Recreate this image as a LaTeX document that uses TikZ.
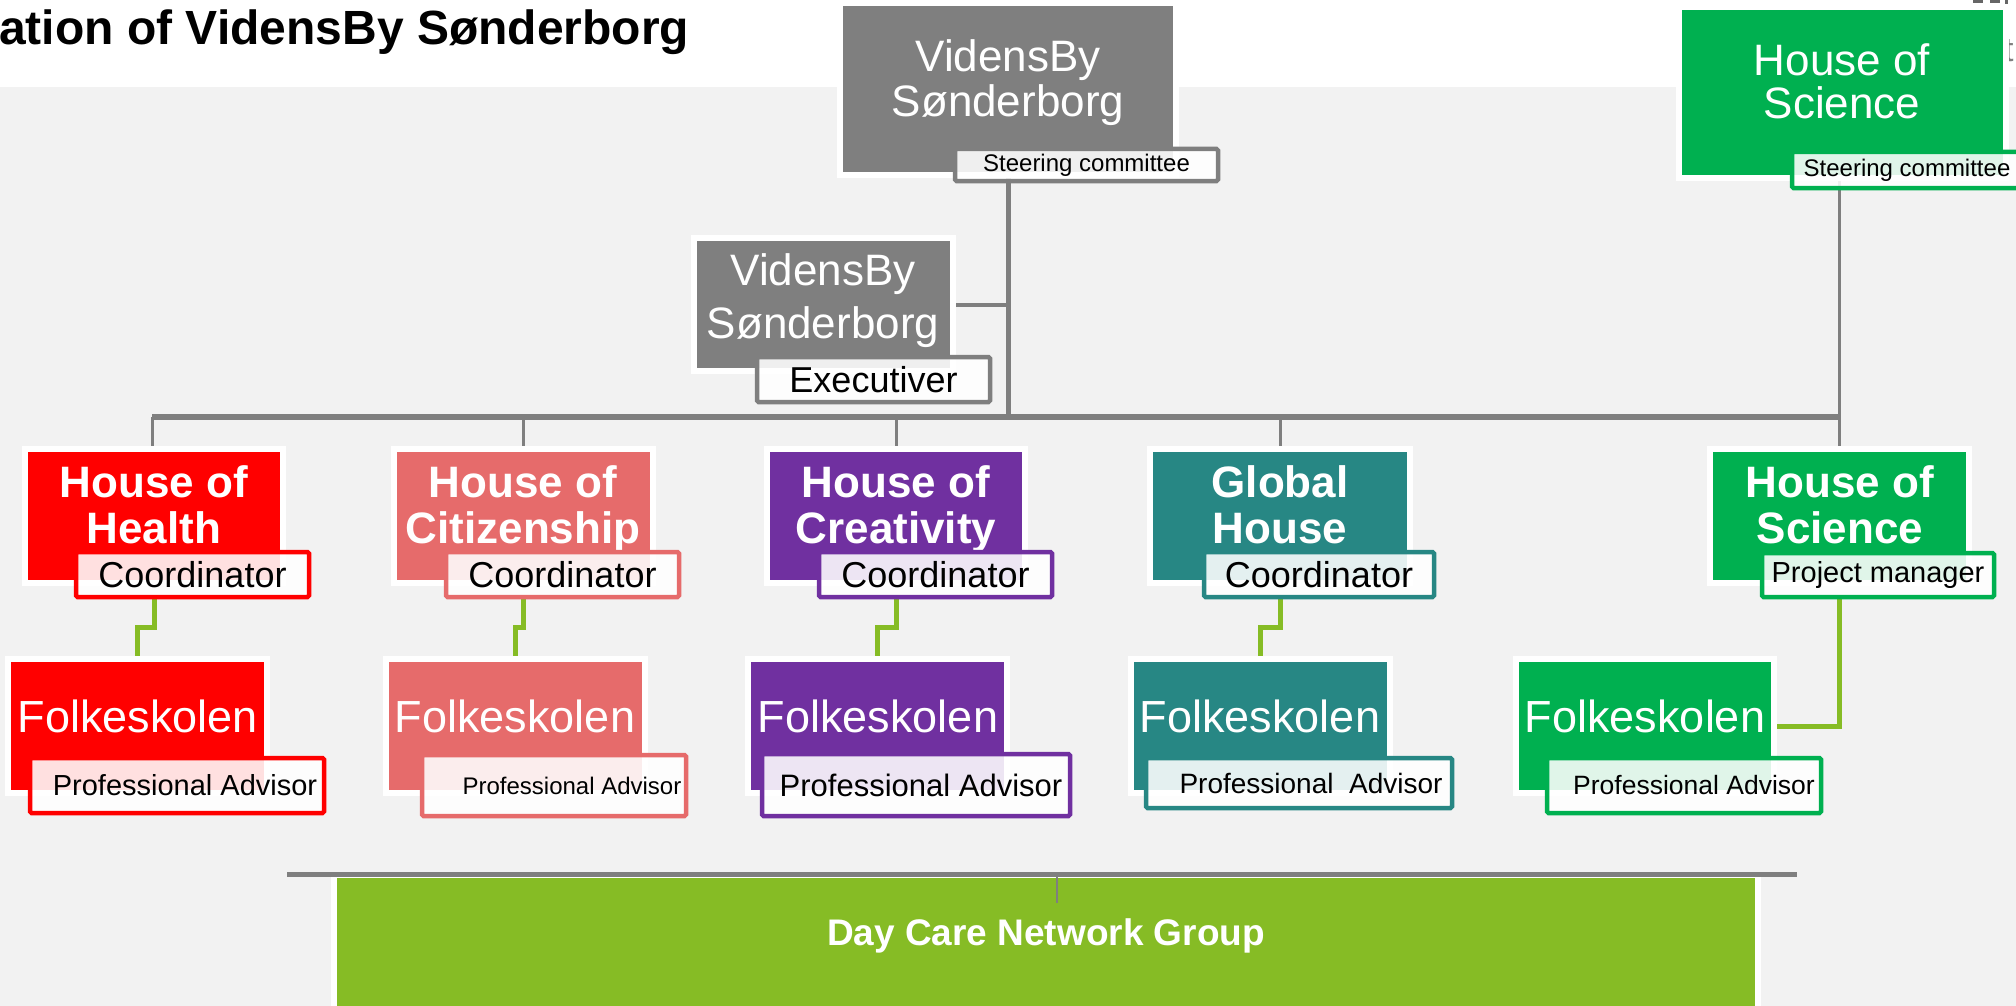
\documentclass[tikz,border=0pt]{standalone}
\usepackage{fontspec}
\setmainfont{Liberation Sans}
\usetikzlibrary{calc}
\pgfdeclarelayer{bg}
\pgfdeclarelayer{lines}
\pgfsetlayers{bg,lines,main}
\definecolor{cgray}{HTML}{7F7F7F}
\definecolor{cbg}{HTML}{F2F2F2}
\definecolor{cred}{HTML}{FF0000}
\definecolor{csal}{HTML}{E66B6B}
\definecolor{cpur}{HTML}{7030A0}
\definecolor{cteal}{HTML}{278784}
\definecolor{cgreen}{HTML}{00B050}
\definecolor{clime}{HTML}{86BC25}
\definecolor{clogo}{HTML}{666666}
\newcommand\fsz[1]{\fontsize{#1}{#1}\selectfont}
\newcommand\mkbox[6]{\node[cbox, fill=#2, minimum width={#5-#3+6}, minimum height={#6-#4+6}] (#1) at ({(#3+#5)/2},{(#4+#6)/2}) {};}
\newcommand\mklab[8]{\node[lab, draw=#2, minimum width={#5-#3-4}, minimum height={#6-#4-4}, font=\fsz{#7}] (#1) at ({(#3+#5)/2},{(#4+#6)/2}) {#8};}
\tikzset{
  cbox/.style={rectangle, draw=white, line width=6pt, inner sep=0pt, outer sep=0pt},
  lab/.style={rectangle, fill=white, fill opacity=0.88, text opacity=1, line width=4.5pt, rounded corners=1.5pt, inner sep=0pt, outer sep=0pt, text=black},
  btxt/.style={text=white, font=\bfseries\fsz{44}, anchor=base, inner sep=0pt},
  rtxt/.style={text=white, font=\fsz{44}, anchor=base, inner sep=0pt},
  ftxt/.style={text=white, font=\fsz{45}, anchor=base, inner sep=0pt},
  gline/.style={draw=cgray},
  lline/.style={draw=clime, line width=5pt},
}
\begin{document}
\begin{tikzpicture}[x=1pt,y=-1pt]
\clip (0,0) rectangle (2016,1006);
\begin{pgfonlayer}{bg}
\fill[white] (0,0) rectangle (2016,1006);
\fill[cbg] (0,87) rectangle (2016,1006);
\end{pgfonlayer}
% title and cut-off corner
\node[anchor=base west, inner sep=0pt, font=\bfseries\fsz{48}] (title) at (-1,45) {ation of VidensBy Sønderborg};
\node[anchor=base west, inner sep=0pt, font=\fsz{34}, text=cgray] (tcut) at (2004,62) {t};
\fill[clogo] (2005,0) rectangle (2008,24);
\fill[clogo] (1973,0) rectangle (1983,3);
\fill[clogo] (1990,0) rectangle (2000,3);
% top level
\mkbox{vb1}{cgray}{843}{6}{1173}{172}
\node[rtxt] (vb1a) at (1008,72) {VidensBy};
\node[rtxt] (vb1b) at (1008,117) {Sønderborg};
\mklab{sc1}{cgray}{953}{147}{1220}{183}{24}{Steering committee}
\mkbox{vb2}{cgray}{697}{241}{950}{368}
\node[rtxt] (vb2a) at (823,285) {VidensBy};
\node[rtxt] (vb2b) at (823,338) {Sønderborg};
\mklab{ex}{cgray}{755}{355}{992}{404}{36}{Executiver}
\mkbox{hs0}{cgreen}{1682}{10}{2003}{175}
\node[rtxt] (hs0a) at (1842,76) {House of};
\node[rtxt] (hs0b) at (1842,119) {Science};
\node[lab, draw=cgreen, minimum width=240, minimum height=36, font=\fsz{24}, anchor=west] (sc2) at (1792,170) {\hspace*{10pt}Steering committee\hspace*{20pt}};
% houses
\mkbox{hh}{cred}{28}{452}{280}{580}
\node[btxt] (hha) at (154,497) {House of};
\node[btxt] (hhb) at (154,543) {Health};
\mklab{hhl}{cred}{74}{550}{311}{599}{36}{Coordinator}
\mkbox{hc}{csal}{397}{452}{650}{580}
\node[btxt] (hca) at (523,497) {House of};
\node[btxt] (hcb) at (523,543) {Citizenship};
\mklab{hcl}{csal}{444}{550}{681}{599}{36}{Coordinator}
\mkbox{hr}{cpur}{770}{452}{1022}{580}
\node[btxt] (hra) at (896,497) {House of};
\node[btxt] (hrb) at (896,543) {Creativity};
\mklab{hrl}{cpur}{817}{550}{1054}{599}{36}{Coordinator}
\mkbox{gh}{cteal}{1153}{452}{1407}{580}
\node[btxt] (gha) at (1280,497) {Global};
\node[btxt] (ghb) at (1280,543) {House};
\mklab{ghl}{cteal}{1202}{550}{1436}{599}{36}{Coordinator}
\mkbox{hs}{cgreen}{1713}{452}{1966}{580}
\node[btxt] (hsa) at (1840,497) {House of};
\node[btxt] (hsb) at (1840,543) {Science};
\mklab{hsl}{cgreen}{1760}{551}{1996}{599}{29}{Project manager}
% folkeskolen
\mkbox{hhf}{cred}{11}{662}{264}{790}
\node[ftxt] (hhft) at (138,732) {Folkeskolen};
\mklab{hhp}{cred}{28}{756}{326}{815}{29}{\hspace*{16pt}Professional Advisor}
\mkbox{hcf}{csal}{389}{662}{642}{790}
\node[ftxt] (hcft) at (515,732) {Folkeskolen};
\mklab{hcp}{csal}{420}{753}{688}{818}{24}{\hspace*{36pt}Professional Advisor}
\mkbox{hrf}{cpur}{751}{662}{1004}{790}
\node[ftxt] (hrft) at (878,732) {Folkeskolen};
\mklab{hrp}{cpur}{760}{752}{1072}{818}{31}{\hspace*{10pt}Professional Advisor}
\mkbox{ghf}{cteal}{1134}{662}{1387}{790}
\node[ftxt] (ghft) at (1260,732) {Folkeskolen};
\mklab{ghp}{cteal}{1144}{756}{1454}{810}{28}{\hspace*{24pt}Professional\ \ Advisor}
\mkbox{hsf}{cgreen}{1519}{662}{1771}{790}
\node[ftxt] (hsft) at (1645,732) {Folkeskolen};
\mklab{hsp}{cgreen}{1545}{756}{1823}{815}{26.5}{\hspace*{20pt}Professional Advisor}
% day care
\mkbox{dc}{clime}{337}{878}{1755}{1014}
\node[text=white, font=\bfseries\fsz{37}, anchor=base, inner sep=0pt] (dct) at (1046,945) {Day Care Network Group};
\coordinate (dcL) at (287,874);
\coordinate (dcR) at (1797,874);
\coordinate (dcT) at (1057,874);
\draw[gline, line width=5pt] (dcL) -- (dcR);
\draw[gline, line width=2.5pt] (dcT) -- ++(0,29);
% connectors
\coordinate (busL) at (152,417);
\coordinate (busR) at (1840,417);
\begin{pgfonlayer}{lines}
\draw[gline, line width=5pt] (vb1.center) -- (vb1.center |- busL);
\draw[gline, line width=4pt] (vb2.east) -- (vb2.east -| vb1.center);
\draw[gline, line width=6pt] (busL) -- (busR);
\draw[gline, line width=3pt] (busL) -- (busL |- hh.north);
\draw[gline, line width=3pt] (hc.north |- busL) -- (hc.north);
\draw[gline, line width=3pt] (hr.north |- busL) -- (hr.north);
\draw[gline, line width=3pt] (gh.north |- busL) -- (gh.north);
\draw[gline, line width=2.5pt] (hs0.south -| hs.north) -- (hs.north);
\draw[lline] (hh.center |- hhl.south) |- ($(hhf.north)+(0,-32)$) -- (hhf.north);
\draw[lline] (hc.center |- hcl.south) |- ($(hcf.north)+(0,-32)$) -- (hcf.north);
\draw[lline] (hr.center |- hrl.south) |- ($(hrf.north)+(0,-32)$) -- (hrf.north);
\draw[lline] (gh.center |- ghl.south) |- ($(ghf.north)+(0,-32)$) -- (ghf.north);
\draw[lline] (hs.center |- hsl.south) |- (hsf.east);
\end{pgfonlayer}
\end{tikzpicture}
\end{document}
